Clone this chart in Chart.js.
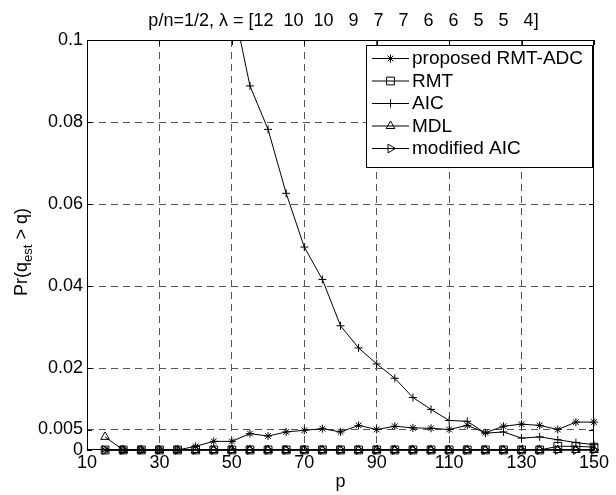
<!DOCTYPE html>
<html>
<head>
<meta charset="utf-8">
<script src="https://cdn.jsdelivr.net/npm/chart.js@4.4.1/dist/chart.umd.min.js"></script>
<style>
    body { margin: 0; background: #fff; }
    #wrap { width: 616px; height: 495px; }
</style>
</head>
<body>
<div id="wrap"><canvas id="chart" width="616" height="495"></canvas></div>
<script>
// p values along the x axis
const pValues = [15, 20, 25, 30, 35, 40, 45, 50, 55, 60, 65, 70, 75, 80, 85, 90, 95, 100, 105, 110, 115, 120, 125, 130, 135, 140, 145, 150];

// Pr(q_est > q) per method
const rmtAdc = [0, 0, 0, 0, 0, 0.0009, 0.0021, 0.0021, 0.0040, 0.0034, 0.0044, 0.0048, 0.0052, 0.0044, 0.0060, 0.0050, 0.0058, 0.0054, 0.0053, 0.0050, 0.0060, 0.0042, 0.0058, 0.0063, 0.0060, 0.0050, 0.0068, 0.0068];
const rmt = [0, 0, 0, 0, 0, 0, 0, 0, 0, 0, 0, 0, 0, 0, 0, 0, 0, 0, 0, 0, 0, 0, 0, 0, 0, 0.0009, 0.0009, 0.0007];
const aic = [0.9, 0.75, 0.6, 0.46, 0.34, 0.24, 0.165, 0.11, 0.0888, 0.0782, 0.0626, 0.0495, 0.0416, 0.0303, 0.0249, 0.0210, 0.0175, 0.0128, 0.0099, 0.0072, 0.0070, 0.0041, 0.0044, 0.0029, 0.0032, 0.0025, 0.0018, 0.0013];
const mdl = [0.0032, 0, 0, 0, 0, 0, 0, 0, 0, 0, 0, 0, 0, 0, 0, 0, 0, 0, 0, 0, 0, 0, 0, 0, 0, 0, 0, 0];
const modAic = [0, 0, 0, 0, 0, 0, 0, 0, 0, 0, 0, 0, 0, 0, 0, 0, 0, 0, 0, 0, 0, 0, 0, 0, 0, 0, 0, 0];

const seriesLabels = ["proposed RMT-ADC", "RMT", "AIC", "MDL", "modified AIC"];

const xTicks = [10, 30, 50, 70, 90, 110, 130, 150];
const yTicks = [0, 0.005, 0.02, 0.04, 0.06, 0.08, 0.1];
const yTickLabels = ["0", "0.005", "0.02", "0.04", "0.06", "0.08", "0.1"];

const titleText = "p/n=1/2, \u03bb = [12  10  10   9   7   7   6   6   5   5   4]";
const xLabel = "p";

const FONT = "Arial, 'Liberation Sans', sans-serif";

// marker look of each series (MATLAB style: * s + ^ >)
const markers = [
    { style: "star", radius: 4, rotation: 0 },
    { style: "rect", radius: 5.5, rotation: 0 },
    { style: "cross", radius: 4, rotation: 0 },
    { style: "triangle", radius: 5, rotation: 0 },
    { style: "triangle", radius: 5, rotation: 90 }
];

function makeSet(label, values, i) {
    return {
        label: label,
        data: values.map((v, k) => ({ x: pValues[k], y: v })),
        borderColor: "#000",
        borderWidth: 1,
        backgroundColor: "rgba(0,0,0,0)",
        pointStyle: markers[i].style,
        pointRadius: markers[i].radius,
        pointRotation: markers[i].rotation,
        pointBorderColor: "#000",
        pointBackgroundColor: "rgba(0,0,0,0)",
        pointBorderWidth: 1,
        tension: 0,
        clip: { left: 10, top: 0, right: 10, bottom: 10 }
    };
}

/* -------------------- FRAME, LEGEND, LABELS -------------------- */

const matlabFrame = {
    id: "matlabFrame",
    afterDraw(chart) {
        const ctx = chart.ctx;
        const ca = chart.chartArea;
        const xs = chart.scales.x;
        const ys = chart.scales.y;

        ctx.save();
        ctx.strokeStyle = "#000";
        ctx.lineWidth = 1;
        ctx.setLineDash([]);

        // axes box
        ctx.strokeRect(Math.round(ca.left) + 0.5, Math.round(ca.top) + 0.5,
            Math.round(ca.right - ca.left) - 1, Math.round(ca.bottom - ca.top) - 1);

        // inward ticks on all four sides
        ctx.beginPath();
        xTicks.forEach(v => {
            const px = Math.round(xs.getPixelForValue(v)) + 0.5;
            ctx.moveTo(px, ca.bottom); ctx.lineTo(px, ca.bottom - 5);
            ctx.moveTo(px, ca.top); ctx.lineTo(px, ca.top + 5);
        });
        yTicks.forEach(v => {
            const py = Math.round(ys.getPixelForValue(v)) + 0.5;
            ctx.moveTo(ca.left, py); ctx.lineTo(ca.left + 5, py);
            ctx.moveTo(ca.right, py); ctx.lineTo(ca.right - 5, py);
        });
        ctx.stroke();

        // legend box
        const lx = 366, ly = 45, lw = 226, lh = 122;
        ctx.fillStyle = "#fff";
        ctx.fillRect(lx, ly, lw, lh);
        ctx.strokeRect(lx + 0.5, ly + 0.5, lw, lh);

        ctx.font = "19px " + FONT;
        ctx.textBaseline = "middle";
        ctx.textAlign = "left";
        seriesLabels.forEach((label, i) => {
            const ry = ly + 13 + i * 22.5;
            ctx.strokeStyle = "#000";
            ctx.beginPath();
            ctx.moveTo(lx + 6, ry + 0.5);
            ctx.lineTo(lx + 43, ry + 0.5);
            ctx.stroke();
            ctx.fillStyle = "rgba(0,0,0,0)";
            Chart.helpers.drawPoint(ctx, {
                pointStyle: markers[i].style,
                radius: markers[i].radius,
                rotation: markers[i].rotation,
                borderWidth: 1
            }, lx + 24.5, ry + 0.5);
            ctx.fillStyle = "#000";
            ctx.fillText(label, lx + 46, ry + 1);
        });

        // title, centred over the plot area
        ctx.fillStyle = "#000";
        ctx.font = "18px " + FONT;
        ctx.textAlign = "center";
        ctx.fillText(titleText, (ca.left + ca.right) / 2 + 3, 21);

        // x label
        ctx.font = "18px " + FONT;
        ctx.fillText(xLabel, (ca.left + ca.right) / 2, 482);

        // y label with subscript
        ctx.save();
        ctx.translate(22, 252);
        ctx.rotate(-Math.PI / 2);
        const big = "18px " + FONT;
        const small = "13px " + FONT;
        ctx.font = big;
        const w1 = ctx.measureText("Pr(q").width;
        const w3 = ctx.measureText(" > q)").width;
        ctx.font = small;
        const w2 = ctx.measureText("est").width;
        let cx = -(w1 + w2 + w3) / 2;
        ctx.textAlign = "left";
        ctx.font = big;
        ctx.fillText("Pr(q", cx, 0);
        cx += w1;
        ctx.font = small;
        ctx.fillText("est", cx, 6);
        cx += w2;
        ctx.font = big;
        ctx.fillText(" > q)", cx, 0);
        ctx.restore();

        ctx.restore();
    }
};

/* -------------------- CHART -------------------- */

const datasets = [
    makeSet(seriesLabels[0], rmtAdc, 0),
    makeSet(seriesLabels[1], rmt, 1),
    makeSet(seriesLabels[2], aic, 2),
    makeSet(seriesLabels[3], mdl, 3),
    makeSet(seriesLabels[4], modAic, 4)
];

new Chart(document.getElementById("chart"), {
    type: "line",
    data: { datasets: datasets },
    options: {
        responsive: false,
        animation: false,
        layout: { padding: { top: 40, right: 22, left: 0, bottom: 0 } },
        plugins: {
            legend: { display: false },
            title: { display: false },
            tooltip: { enabled: false }
        },
        scales: {
            x: {
                type: "linear",
                min: 10,
                max: 150,
                afterBuildTicks: s => { s.ticks = xTicks.map(v => ({ value: v })); },
                afterFit: s => { s.height = 45; },
                ticks: {
                    color: "#000",
                    font: { family: FONT, size: 18 },
                    padding: 2,
                    maxRotation: 0,
                    autoSkip: false
                },
                grid: {
                    drawTicks: false,
                    color: c => (c.tick && c.tick.value > 10 && c.tick.value < 150) ? "#555" : "rgba(0,0,0,0)",
                    lineWidth: 1
                },
                border: { display: false, dash: [7, 5] }
            },
            y: {
                type: "linear",
                min: 0,
                max: 0.1,
                afterBuildTicks: s => { s.ticks = yTicks.map(v => ({ value: v })); },
                afterFit: s => { s.width = 87; },
                ticks: {
                    color: "#000",
                    font: { family: FONT, size: 18 },
                    padding: 4,
                    autoSkip: false,
                    callback: v => yTickLabels[yTicks.indexOf(v)]
                },
                grid: {
                    drawTicks: false,
                    color: c => (c.tick && c.tick.value > 0 && c.tick.value < 0.1) ? "#555" : "rgba(0,0,0,0)",
                    lineWidth: 1
                },
                border: { display: false, dash: [7, 5] }
            }
        }
    },
    plugins: [matlabFrame]
});
</script>
</body>
</html>
